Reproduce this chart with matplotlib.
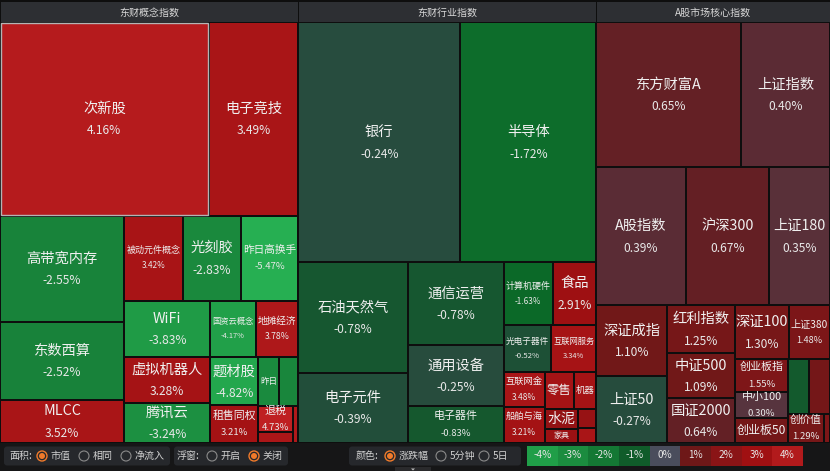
import matplotlib
matplotlib.use("Agg")
import matplotlib.pyplot as plt
from matplotlib.patches import Rectangle, FancyBboxPatch, Circle, Polygon
import numpy as np

plt.rcParams['font.family'] = ['Noto Sans CJK SC', 'DejaVu Sans']

# ---- data (size = market value weight, change = % change) ----
panel_titles = ["东财概念指数", "东财行业指数", "A股市场核心指数"]

concept_names = ["次新股", "电子竞技", "高带宽内存", "东数西算", "MLCC", "被动元件概念", "光刻胶",
                 "昨日高换手", "WiFi", "虚拟机器人", "腾讯云", "国资云概念", "地摊经济", "题材股",
                 "租售同权", "昨日", "", "退税", "", ""]
concept_size = [40352, 17266, 13144, 9672, 5332, 4930, 4930, 4845, 4816, 3956, 3440, 2550, 2400,
                2303, 1786, 1029, 931, 900, 380, 200]
concept_change = [4.16, 3.49, -2.55, -2.52, 3.52, 3.42, -2.83, -5.47, -3.83, 3.28, -3.24, -4.17,
                  3.78, -4.82, 3.21, -2.9, -2.7, 4.73, 3.6, 3.9]

industry_names = ["银行", "半导体", "石油天然气", "电子元件", "通信运营", "通用设备", "电子器件",
                  "计算机硬件", "食品", "光电子器件", "互联网服务", "互联网金", "船舶与海", "零售",
                  "机器", "水泥", "家具", "", ""]
industry_size = [38880, 32640, 12100, 7700, 7885, 5795, 3515, 3038, 2728, 2250, 2150, 1400, 1500,
                 1044, 828, 660, 462, 360, 270]
industry_change = [-0.24, -1.72, -0.78, -0.39, -0.78, -0.25, -0.83, -1.63, 2.91, -0.52, 3.34, 3.48,
                   3.21, 3.27, 3.3, 2.4, 2.8, 2.6, 3.5]

index_names = ["东方财富A", "上证指数", "A股指数", "沪深300", "上证180", "深证成指", "上证50",
               "红利指数", "中证500", "国证2000", "深证100", "上证380", "创业板指", "中小100",
               "创业板50", "", "", "创价值", ""]
index_size = [20880, 12905, 12282, 11454, 8418, 5000, 4700, 3250, 2992, 3060, 2916, 2214, 1749,
              1378, 1325, 1134, 1134, 1044, 174]
index_change = [0.65, 0.40, 0.39, 0.67, 0.35, 1.10, -0.27, 1.25, 1.09, 0.64, 1.30, 1.48, 1.55,
                0.30, 1.2, -0.9, 1.2, 1.29, 1.5]

legend_values = [-4, -3, -2, -1, 0, 1, 2, 3, 4]

# colour scale for % change
stop_x = [-5.5, -4, -3, -2, -1.5, -1, -0.5, -0.15, 0, 0.5, 1, 1.5, 2, 3, 4, 5]
stop_rgb = [(38, 175, 82), (32, 158, 72), (27, 140, 63), (20, 120, 52), (8, 100, 36), (16, 92, 42),
            (30, 80, 55), (42, 74, 64), (74, 77, 92), (95, 35, 42), (110, 24, 24), (125, 22, 24),
            (138, 20, 22), (160, 16, 18), (178, 26, 28), (196, 34, 36)]


def change_color(v):
    rgb = np.array(stop_rgb, dtype=float)
    return tuple(np.interp(v, stop_x, rgb[:, k]) / 255 for k in range(3))


def worst(row, side, ratio):
    s = sum(row)
    f = side * side * ratio
    return max(f * max(row) / (s * s), s * s / (f * min(row)))


def squarify(values, x, y, w, h, ratio=(1 + 5 ** 0.5) / 2):
    total = float(sum(values))
    areas = [v * w * h / total for v in values]
    rects = []
    i = 0
    while i < len(areas):
        side = min(w, h)
        row = [areas[i]]
        best = worst(row, side, ratio)
        j = i + 1
        while j < len(areas):
            score = worst(row + [areas[j]], side, ratio)
            if score > best:
                break
            row.append(areas[j])
            best = score
            j += 1
        flush = j == len(areas)
        s = sum(row)
        if side == w:
            rh = h if flush else s / w
            cx = x
            for a in row:
                rects.append((cx, y, a / rh, rh))
                cx += a / rh
            y += rh
            h -= rh
        else:
            cw = w if flush else s / h
            cy = y
            for a in row:
                rects.append((x, cy, cw, a / cw))
                cy += a / cw
            x += cw
            w -= cw
        i = j
    return rects


PX = 0.72  # points per pixel (dpi 100)
W, H = 830, 471
HEADER = 22
MAP_BOTTOM = 443
GAP = 1.0


def text_units(s):
    return sum(1.0 if ord(c) > 0x2e80 else 0.55 for c in s)


def draw_labels(ax, x, y, w, h, name, change):
    if not name:
        return
    pct = f"{change:.2f}%"
    cx, cy = x + w / 2, y + h / 2
    u = text_units(name)
    kw = dict(ha='center', va='center', color='#f0f0f0')
    if u * 14.3 + 1 <= w and h >= 38:
        ax.text(cx, cy - 10, name, fontsize=14.3 * PX, **kw)
        ax.text(cx, cy + 12, pct, fontsize=12 * PX, color='#e8e8e8', ha='center', va='center')
        return
    s = min(11, (w - 4) / u)
    if s < 7:
        return
    p = min(9.5, 0.9 * s)
    if h >= s + 14.5 and len(pct) * 0.56 * p <= w - 4:
        gap = 0.55 * (s + p) + 6
        ax.text(cx, cy - gap / 2, name, fontsize=s * PX, **kw)
        ax.text(cx, cy + gap / 2, pct, fontsize=p * PX, color='#e8e8e8', ha='center', va='center')
    else:
        s = min(14, (w - 4) / u, h - 6)
        if s >= 7:
            ax.text(cx, cy, name, fontsize=s * PX, **kw)


fig = plt.figure(figsize=(W / 100, H / 100), dpi=100)
fig.patch.set_facecolor('#0e0e0e')
ax = fig.add_axes([0, 0, 1, 1])
ax.set_xlim(0, W)
ax.set_ylim(H, 0)
ax.axis('off')

panels = [(concept_names, concept_size, concept_change),
          (industry_names, industry_size, industry_change),
          (index_names, index_size, index_change)]
sums = [sum(p[1]) for p in panels]
px0 = 0.0
for title, (names, sizes, changes), total in zip(panel_titles, panels, sums):
    pw = W * total / sum(sums)
    # header
    ax.add_patch(Rectangle((px0 + 0.5, 1.5), pw - 1, HEADER - 2, facecolor='#2d2f33', edgecolor='none'))
    ax.text(px0 + pw / 2, 12.5, title, ha='center', va='center', fontsize=10 * PX, color='#d8d8d8')
    rects = squarify(sizes, px0, HEADER, pw, MAP_BOTTOM - HEADER)
    for (x, y, w, h), name, chg in zip(rects, names, changes):
        ax.add_patch(Rectangle((x + GAP, y + GAP), w - 2 * GAP, h - 2 * GAP,
                               facecolor=change_color(chg), edgecolor='none'))
        draw_labels(ax, x, y, w, h, name, chg)
        if name == "次新股":
            ax.add_patch(Rectangle((x + GAP, y + GAP), w - 2 * GAP, h - 2 * GAP, facecolor='none',
                                   edgecolor='#b4b4b4', lw=1.0))
    px0 += pw

# ---- bottom toolbar ----
ax.add_patch(Rectangle((0, MAP_BOTTOM), W, H - MAP_BOTTOM, facecolor='#161617', edgecolor='none'))
tb_y = 456
for bx0, bx1 in [(4, 170), (174, 288), (349, 521)]:
    ax.add_patch(FancyBboxPatch((bx0, 446.5), bx1 - bx0, 19, boxstyle="round,pad=0,rounding_size=3",
                                facecolor='#26282c', edgecolor='none'))

tb_kw = dict(ha='left', va='center', fontsize=10 * PX, color='#d0d0d0')
ax.text(9, tb_y, "面积:", **tb_kw)
ax.text(177, tb_y, "浮窗:", **tb_kw)
ax.text(356, tb_y, "颜色:", **tb_kw)
radios = [(42, "市值", True), (84, "相同", False), (126, "净流入", False),
          (212, "开启", False), (254, "关闭", True),
          (390, "涨跌幅", True), (441, "5分钟", False), (484, "5日", False)]
for rx, label, on in radios:
    if on:
        ax.add_patch(Circle((rx, tb_y), 5, facecolor='none', edgecolor='#f07a2a', lw=1.0))
        ax.add_patch(Circle((rx, tb_y), 3, facecolor='#f07a2a', edgecolor='none'))
    else:
        ax.add_patch(Circle((rx, tb_y), 5, facecolor='none', edgecolor='#8a8a8a', lw=0.8))
    ax.text(rx + 8.5, tb_y, label, **tb_kw)

lg_x0, lg_x1 = 527, 803
lw_ = (lg_x1 - lg_x0) / len(legend_values)
for k, v in enumerate(legend_values):
    ax.add_patch(Rectangle((lg_x0 + k * lw_, 445.5), lw_, 20, facecolor=change_color(v), edgecolor='none'))
    ax.text(lg_x0 + (k + 0.5) * lw_, 455.5, f"{v}%", ha='center', va='center', fontsize=10 * PX,
            color='#e6e6e6')

ax.add_patch(Rectangle((395, 467), 36, 5, facecolor='#2a2a2c', edgecolor='none'))
ax.add_patch(Polygon([(411, 468.5), (415, 468.5), (413, 470.5)], closed=True, facecolor='#bbbbbb',
                     edgecolor='none'))

fig.savefig("out.png", dpi=100, facecolor=fig.get_facecolor())
